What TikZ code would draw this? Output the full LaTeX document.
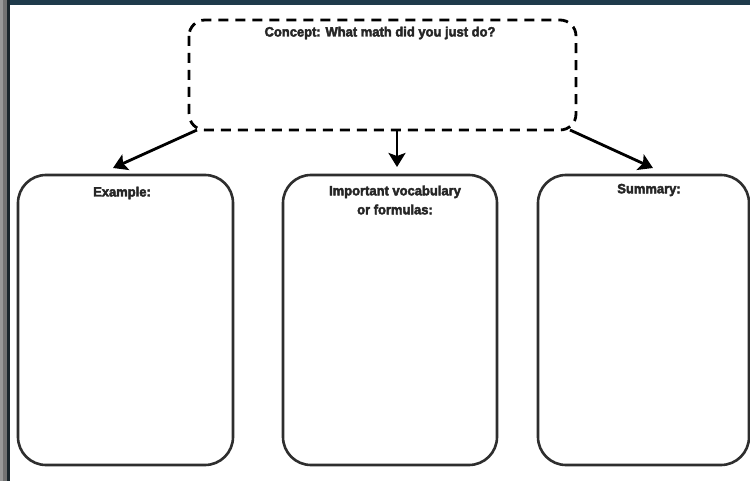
\documentclass[tikz,border=0pt]{standalone}
\usepackage{fontspec}
\setmainfont{Liberation Sans}
\newfontfamily\lblfont[FakeStretch=0.96,FakeBold=3]{Liberation Sans Bold}
\usetikzlibrary{arrows.meta}
\definecolor{topstrip}{HTML}{1F3B4B}
\definecolor{edgedark}{HTML}{1A262C}
\definecolor{linegray}{HTML}{2E2E2E}
\tikzset{
  x=1pt,y=-1pt,
  panel/.style={draw=linegray,line width=2.6pt,rounded corners=28pt,fill=white},
  conceptbox/.style={draw=black,line width=2.8pt,dash pattern=on 10pt off 7pt,rounded corners=16pt},
  lbl/.style={font=\lblfont\fontsize{13.5}{19}\selectfont,text=black!85,align=center,inner sep=0pt},
  conn/.style={draw=black,line width=2.8pt,-{Stealth[length=14pt,width=17pt,inset=3pt]}}
}
\begin{document}
\begin{tikzpicture}
\useasboundingbox (0,0) rectangle (750,481);
\fill[white] (0,0) rectangle (750,481);
% frame strips
\fill[topstrip] (9,0) rectangle (750,5);
\fill[black!40] (0,0) rectangle (3,481);
\fill[black!55] (3,0) rectangle (7,481);
\fill[edgedark] (7,0) rectangle (10,481);
% shapes
\path[conceptbox] (189,20) rectangle (576,130);
\coordinate (cbl) at (197,130);
\coordinate (cbm) at (397,131);
\coordinate (cbr) at (570,130);
\node[lbl] (concept) at (380,33) {Concept: What math did you just do?};
\path[panel] (18,175) rectangle (233,465);
\path[panel] (283,175) rectangle (497,465);
\path[panel] (538,175) rectangle (749,465);
\coordinate (exTop) at (113,168);
\coordinate (voTop) at (397,167);
\coordinate (suTop) at (653,168);
\node[lbl] (example) at (122,193) {Example:};
\node[lbl] (vocab) at (395,200) {Important vocabulary\\or formulas:};
\node[lbl] (summary) at (649,190) {Summary:};
% connectors
\draw[conn] (cbl) -- (exTop);
\draw[conn] (cbm) -- (voTop);
\draw[conn] (cbr) -- (suTop);
\end{tikzpicture}
\end{document}
